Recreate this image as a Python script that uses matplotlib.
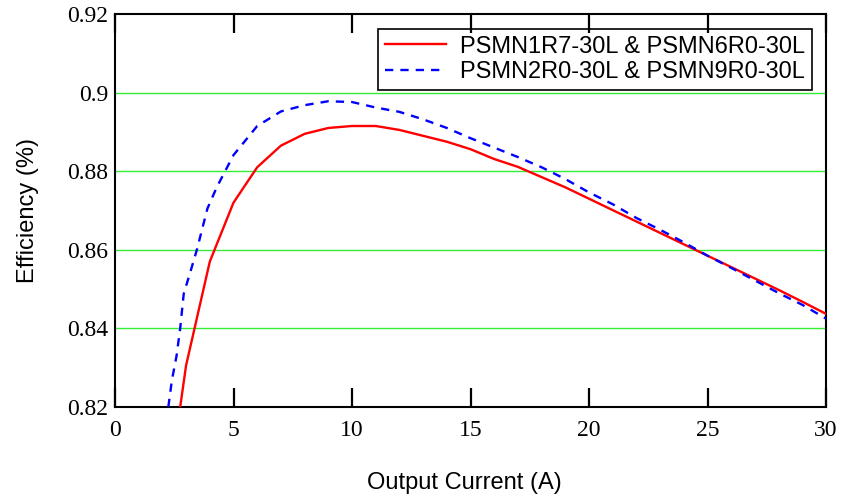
import matplotlib
matplotlib.use("Agg")
import matplotlib.pyplot as plt
from matplotlib.ticker import FuncFormatter

x_red = [2.75, 3, 4, 5, 6, 7, 8, 9, 10, 11, 12, 13, 14, 15, 16, 17, 18, 19, 20,
         21, 22, 23, 24, 25, 26, 27, 28, 29, 30]
y_red = [0.82, 0.8306, 0.857, 0.872, 0.881, 0.8865, 0.8895, 0.891, 0.8915, 0.8915,
         0.8905, 0.889, 0.8875, 0.8856, 0.8831, 0.8811, 0.8785, 0.8759, 0.873,
         0.8701, 0.8672, 0.8643, 0.8614, 0.8585, 0.8556, 0.8527, 0.8498, 0.8468, 0.8437]

x_blue = [2.25, 2.4, 2.6, 2.75, 2.9, 3.2, 3.45, 3.9, 4.3, 5, 6, 7, 8, 9, 10, 11, 12,
          13, 14, 15, 16, 17, 18, 19, 20, 21, 22, 23, 24, 25, 26, 27, 28, 29, 30]
y_blue = [0.82, 0.8268, 0.8331, 0.840, 0.8488, 0.8548, 0.8599, 0.8705, 0.876, 0.8841,
          0.8915, 0.8952, 0.8968, 0.8978, 0.8976, 0.8962, 0.8951, 0.8932, 0.891,
          0.8884, 0.886, 0.8836, 0.881, 0.878, 0.8746, 0.8716, 0.8681, 0.8651,
          0.8619, 0.8585, 0.8554, 0.8522, 0.849, 0.846, 0.8425]

label_red = "PSMN1R7-30L & PSMN6R0-30L"
label_blue = "PSMN2R0-30L & PSMN9R0-30L"
x_ticks = [0, 5, 10, 15, 20, 25, 30]
y_ticks = [0.82, 0.84, 0.86, 0.88, 0.90, 0.92]

fig = plt.figure(figsize=(8.41, 4.96), dpi=100)
ax = fig.add_axes([115/841, 1-407/496, (826-115)/841, (407-14)/496])
ax.set_axisbelow(False)

for yv in y_ticks[1:-1]:
    ax.axhline(yv, color="#33ee33", lw=1.0, zorder=1)

ax.plot(x_red, y_red, color="red", lw=1.7, label=label_red, zorder=3)
ax.plot(x_blue, y_blue, color="blue", lw=1.7, ls=(0, (3.5, 3)), label=label_blue, zorder=3)

ax.set_xlim(0, 30)
ax.set_ylim(0.82, 0.92)
ax.set_xticks(x_ticks)
ax.set_yticks(y_ticks)
ax.yaxis.set_major_formatter(FuncFormatter(lambda v, p: "%g" % round(v, 3)))
ax.xaxis.set_major_formatter(FuncFormatter(lambda v, p: "%g" % v))
ax.tick_params(axis="x", direction="in", top=True, length=14, width=1.6, pad=9,
               labelsize=17, labelfontfamily="Liberation Serif")
ax.tick_params(axis="y", direction="in", length=0, pad=5,
               labelsize=17, labelfontfamily="Liberation Serif")
for s in ax.spines.values():
    s.set_linewidth(1.5)

ax.set_xlabel("Output Current (A)", fontsize=17, family="Liberation Sans")
ax.set_ylabel("Efficiency (%)", fontsize=17, family="Liberation Sans")
ax.xaxis.set_label_coords(0.491, -0.193)
ax.yaxis.set_label_coords(-0.122, 0.5)
ax.xaxis.label.set_va("center")
ax.yaxis.label.set_va("center")

leg = ax.legend(loc="upper right", bbox_to_anchor=((812-115)/711, 1 - 14.5/393),
                prop={"family": "Liberation Sans", "size": 17},
                frameon=True, fancybox=False, edgecolor="black", framealpha=1,
                handlelength=2.55, handletextpad=0.6, borderaxespad=0.0,
                borderpad=0.3, labelspacing=0.15)
leg.get_frame().set_linewidth(1.2)
leg.set_zorder(2)

fig.savefig("out.png", dpi=100)
